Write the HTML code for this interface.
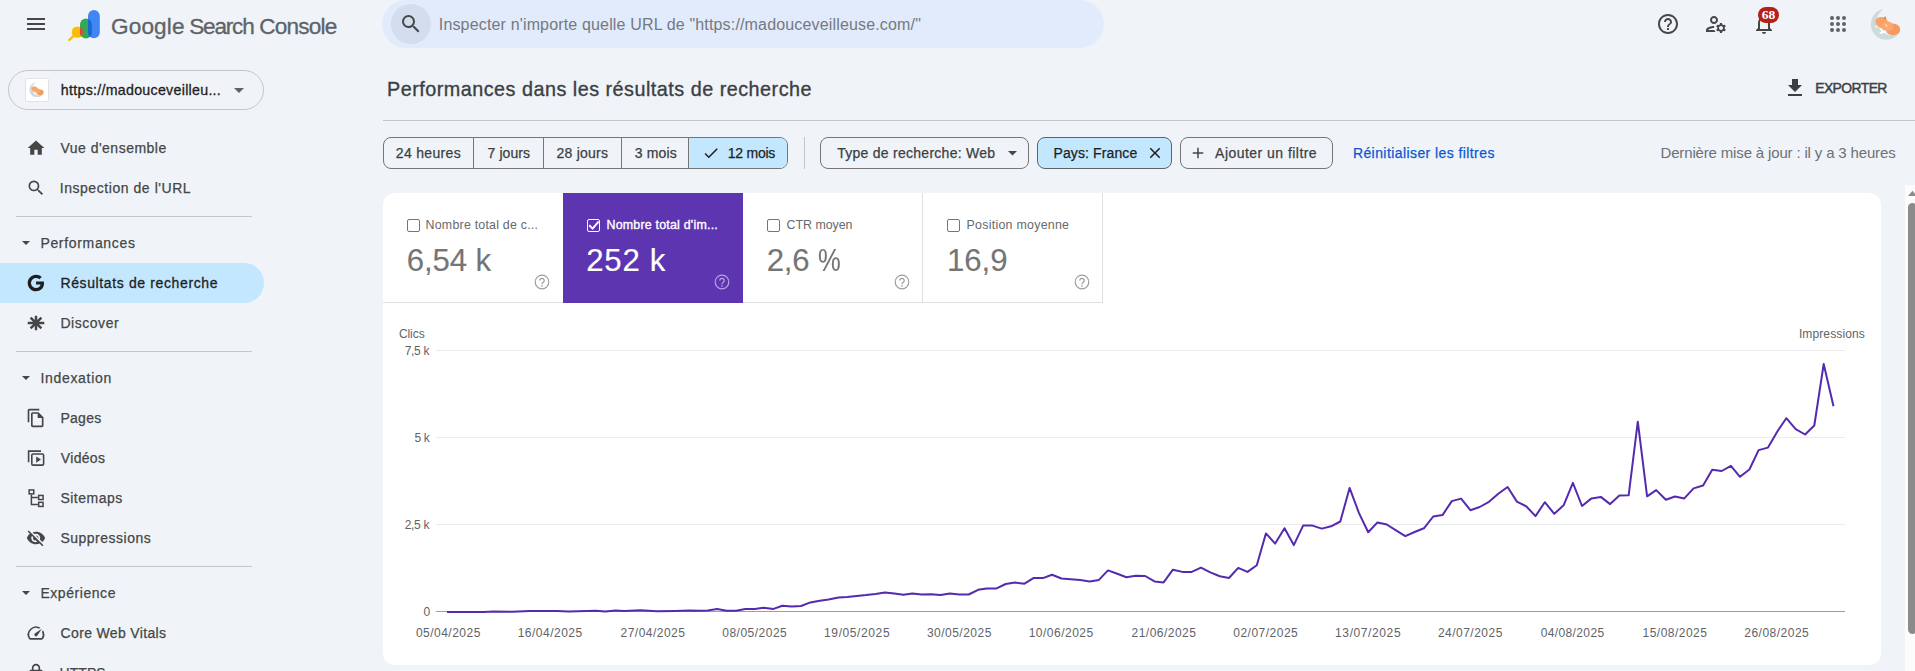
<!DOCTYPE html>
<html lang="fr">
<head>
<meta charset="utf-8">
<title>Performances</title>
<style>
*{box-sizing:border-box;margin:0;padding:0}
html,body{width:1915px;height:671px;overflow:hidden;background:#f0f4f9}
body{position:relative;font-family:"Liberation Sans",Arial,sans-serif;color:#444746;-webkit-font-smoothing:antialiased}
.a{position:absolute;white-space:nowrap}
.nav{font-size:14.5px;color:#444746;font-weight:400;line-height:20px;letter-spacing:.1px}
.sec{font-size:14.5px;color:#444746;line-height:20px}
.hr{position:absolute;height:1px;background:#c4c7c5}
.seg{font-size:14px;color:#3c4043;line-height:20px}
.xl{font-size:12px;color:#5f6368;text-align:center;line-height:16px}
.yl{font-size:12px;color:#5f6368;text-align:right;line-height:16px;width:40px;left:390px}
.mlab{font-size:13px;color:#5f6368;line-height:16px}
.mval{font-size:32px;color:#5f6368;line-height:36px}
svg{position:absolute;overflow:visible}
</style>
</head>
<body>

<!-- ===== header ===== -->
<svg style="left:24px;top:12px" width="24" height="24" viewBox="0 0 24 24"><path fill="#444746" d="M3 18h18v-2H3v2zm0-5h18v-2H3v2zm0-7v2h18V6H3z"/></svg>

<!-- logo -->
<svg style="left:68px;top:10px" width="32" height="32" viewBox="0 0 32 32">
  <defs>
    <clipPath id="cg"><rect x="12" y="8.600" width="11.800" height="20" rx="5.900"/></clipPath>
  </defs>
  <path d="M1.300 30 L5.600 25.800" stroke="#fbbc04" stroke-width="2.400" stroke-linecap="round" fill="none"/>
  <circle cx="9.300" cy="22.200" r="5.600" fill="#fbbc04"/>
  <rect x="12" y="8.600" width="11.800" height="20" rx="5.900" fill="#34a853"/>
  <circle cx="9.300" cy="22.200" r="5.600" fill="#ea4335" clip-path="url(#cg)"/>
  <rect x="20" y="0.100" width="11.800" height="28.100" rx="5.900" fill="#4285f4"/>
  <rect x="20" y="0.100" width="11.800" height="28.100" rx="5.900" fill="#1967d2" clip-path="url(#cg)"/>
</svg>

<!-- search bar -->
<div class="a" style="left:382px;top:0;width:722px;height:48px;border-radius:24px;background:#e1ebfc"></div>
<div class="a" style="left:391px;top:4px;width:40px;height:40px;border-radius:20px;background:#d3ddee"></div>
<svg style="left:399px;top:12px" width="24" height="24" viewBox="0 0 24 24"><path fill="#444746" d="M15.5 14h-.79l-.28-.27A6.471 6.471 0 0 0 16 9.500 6.500 6.500 0 1 0 9.500 16c1.610 0 3.090-.590 4.230-1.570l.27.28v.79l5 4.990L20.490 19l-4.990-5zm-6 0C7.010 14 5 11.990 5 9.500S7.010 5 9.500 5 14 7.010 14 9.500 11.990 14 9.500 14z"/></svg>

<!-- right icons -->
<svg style="left:1656px;top:12px" width="24" height="24" viewBox="0 0 24 24"><path fill="#444746" d="M11 18h2v-2h-2v2zm1-16C6.480 2 2 6.480 2 12s4.480 10 10 10 10-4.480 10-10S17.520 2 12 2zm0 18c-4.410 0-8-3.590-8-8s3.590-8 8-8 8 3.590 8 8-3.590 8-8 8zm0-14c-2.210 0-4 1.790-4 4h2c0-1.100.9-2 2-2s2 .9 2 2c0 2-3 1.750-3 5h2c0-2.250 3-2.500 3-5 0-2.210-1.790-4-4-4z"/></svg>
<svg style="left:1704px;top:12px" width="24" height="24" viewBox="0 0 24 24"><g fill="#444746"><path d="M10 12c2.210 0 4-1.790 4-4s-1.790-4-4-4-4 1.790-4 4 1.790 4 4 4zm0-6c1.100 0 2 .9 2 2s-.9 2-2 2-2-.9-2-2 .9-2 2-2z"/><path d="M4 18c.22-.72 3.310-2 6-2 0-.7.130-1.370.35-1.990C7.620 13.910 2 15.270 2 18v2h9.540c-.52-.58-.93-1.250-1.190-2H4z"/><path d="M19.430 18.020c.36-.59.570-1.280.57-2.020 0-2.210-1.790-4-4-4s-4 1.790-4 4 1.790 4 4 4c.74 0 1.430-.22 2.020-.57z" fill="none"/><path d="M20.750 16c0-.22-.03-.42-.06-.63l1.140-1.010-1-1.730-1.450.49c-.32-.27-.68-.48-1.080-.63L18 11h-2l-.3 1.490c-.4.150-.76.360-1.080.63l-1.450-.49-1 1.730 1.140 1.010c-.03.210-.06.410-.06.630s.03.420.06.630l-1.140 1.010 1 1.730 1.450-.49c.32.270.68.480 1.080.63L16 21h2l.3-1.490c.4-.150.760-.360 1.080-.63l1.450.49 1-1.730-1.140-1.010c.03-.210.06-.410.060-.630zM17 18c-1.100 0-2-.9-2-2s.9-2 2-2 2 .9 2 2-.9 2-2 2z"/></g></svg>
<svg style="left:1752px;top:12px" width="24" height="24" viewBox="0 0 24 24"><path fill="#444746" d="M12 22c1.100 0 2-.9 2-2h-4c0 1.100.9 2 2 2zm6-6v-5c0-3.070-1.630-5.640-4.500-6.320V4c0-.83-.67-1.500-1.500-1.500s-1.500.67-1.500 1.500v.68C7.640 5.360 6 7.920 6 11v5l-2 2v1h16v-1l-2-2zm-2 1H8v-6c0-2.480 1.510-4.500 4-4.500s4 2.020 4 4.500v6z"/></svg>
<div class="a" style="left:1758px;top:7px;width:21px;height:16px;border-radius:8px;background:#b3201a"></div>
<div class="a" style="left:1758px;top:7px;width:21px;height:16px;font-family:'Liberation Serif',serif;font-size:13.500px;font-weight:700;line-height:16px;color:#fff;text-align:center">68</div>
<svg style="left:1826px;top:12px" width="24" height="24" viewBox="0 0 24 24"><g fill="#5f6368"><circle cx="6" cy="6" r="2"/><circle cx="12" cy="6" r="2"/><circle cx="18" cy="6" r="2"/><circle cx="6" cy="12" r="2"/><circle cx="12" cy="12" r="2"/><circle cx="18" cy="12" r="2"/><circle cx="6" cy="18" r="2"/><circle cx="12" cy="18" r="2"/><circle cx="18" cy="18" r="2"/></g></svg>
<!-- avatar -->
<svg style="left:1870px;top:8px" width="32" height="32" viewBox="0 0 32 32">
  <defs><mask id="mk"><rect width="32" height="32" fill="#fff"/><circle cx="20.800" cy="13" r="13.900" fill="#000"/></mask></defs>
  <circle cx="16.300" cy="16.200" r="15.500" fill="#cddcda" mask="url(#mk)"/>
  <ellipse cx="23" cy="21.400" rx="7.200" ry="5.800" fill="#f59a5c"/>
  <ellipse cx="11.800" cy="14.600" rx="6.600" ry="5.400" transform="rotate(25 11.800 14.600)" fill="#f7a468"/>
  <path d="M12.500 10.500 l3.200 -2.600 l0.800 4.200z" fill="#f08a48"/>
  <ellipse cx="17.500" cy="18.500" rx="6" ry="5" fill="#f8a870"/>
  <path d="M9.500 24.500 q3 -2.500 7 -2 q-2 2.500 -6 3.500z" fill="#fff"/>
  <path d="M15.200 15.800 q2 1.200 2.200 3.600 q-1.600 -1.200 -2.200 -3.600z" fill="#fff"/>
  <path d="M4.800 18.800 l2.600 -1.600 l-0.400 2.600z" fill="#fff"/>
</svg>

<!-- ===== sidebar ===== -->
<div class="a" style="left:8px;top:70px;width:256px;height:40px;border:1px solid #c4c7c5;border-radius:20px"></div>
<div class="a" style="left:25px;top:78px;width:24px;height:24px;background:#fff;border:1px solid #e3e3e3;border-radius:2px"></div>
<svg style="left:28.800px;top:81.500px" width="15.500" height="15.500" viewBox="0 0 32 32">
  <defs><mask id="mk2"><rect width="32" height="32" fill="#fff"/><circle cx="20.800" cy="13" r="13.900" fill="#000"/></mask></defs>
  <circle cx="16.300" cy="16.200" r="15.500" fill="#cddcda" mask="url(#mk2)"/>
  <ellipse cx="23" cy="21.400" rx="7.200" ry="5.800" fill="#f59a5c"/>
  <ellipse cx="11.800" cy="14.600" rx="6.600" ry="5.400" transform="rotate(25 11.800 14.600)" fill="#f7a468"/>
  <ellipse cx="17.500" cy="18.500" rx="6" ry="5" fill="#f8a870"/>
  <path d="M9.500 24.500 q3 -2.500 7 -2 q-2 2.500 -6 3.500z" fill="#fff"/>
</svg>
<svg style="left:234px;top:88px" width="10" height="5" viewBox="0 0 10 5"><path d="M0 0h10L5 5z" fill="#5f6368"/></svg>

<svg style="left:26px;top:138px" width="20" height="20" viewBox="0 0 24 24"><path fill="#444746" d="M10 20v-6h4v6h5v-8h3L12 3 2 12h3v8z"/></svg>
<svg style="left:26px;top:178px" width="20" height="20" viewBox="0 0 24 24"><path fill="#444746" d="M15.500 14h-.79l-.28-.27A6.471 6.471 0 0 0 16 9.500 6.500 6.500 0 1 0 9.500 16c1.610 0 3.090-.590 4.230-1.570l.27.280v.79l5 4.990L20.490 19l-4.990-5zm-6 0C7.010 14 5 11.990 5 9.500S7.010 5 9.500 5 14 7.010 14 9.500 11.990 14 9.500 14z"/></svg>
<div class="hr" style="left:16px;top:216px;width:236px"></div>

<svg style="left:22px;top:241px" width="8" height="4" viewBox="0 0 10 5"><path d="M0 0h10L5 5z" fill="#444746"/></svg>

<div class="a" style="left:0;top:263px;width:264px;height:40px;border-radius:0 20px 20px 0;background:#c2e7ff"></div>
<svg style="left:27px;top:274px" width="18" height="18" viewBox="0 0 18 18"><path fill="#1f1f1f" d="M9 7.400v3.200h4.600c-.2 1.100-.85 2-1.750 2.600-.8.500-1.750.8-2.850.8-2.450 0-4.500-1.850-4.950-4.250a5.300 5.300 0 0 1 0-1.500C4.500 5.850 6.550 4 9 4c1.300 0 2.450.45 3.350 1.300l2.400-2.400C13.250 1.500 11.300.7 9 .7 4.400.7.700 4.400.700 9s3.700 8.300 8.300 8.300c2.250 0 4.150-.75 5.500-2 1.600-1.450 2.500-3.600 2.500-6.100 0-.6-.05-1.200-.15-1.800H9z"/></svg>

<svg style="left:27px;top:314px" width="18" height="18" viewBox="0 0 18 18"><g stroke="#444746" stroke-width="2.500" stroke-linecap="butt"><path d="M9 1.700v14.600M.7 9h16.600M3.600 3.600l10.800 10.800M14.400 3.600L3.600 14.400"/></g></svg>
<div class="hr" style="left:16px;top:351px;width:236px"></div>

<svg style="left:22px;top:376px" width="8" height="4" viewBox="0 0 10 5"><path d="M0 0h10L5 5z" fill="#444746"/></svg>

<svg style="left:26px;top:408px" width="20" height="20" viewBox="0 0 24 24"><path fill="#444746" d="M16 1H4c-1.100 0-2 .9-2 2v14h2V3h12V1zm-1 4H8c-1.100 0-1.990.9-1.990 2L6 21c0 1.100.89 2 1.990 2H19c1.100 0 2-.9 2-2V11l-6-6zM8 21V7h6v5h5v9H8z"/></svg>
<svg style="left:26px;top:448px" width="20" height="20" viewBox="0 0 20 20"><g fill="none" stroke="#444746" stroke-width="1.600"><path d="M2.600 14.300V3.100H15"/><rect x="5.800" y="6" width="11.800" height="11.100" rx="1.200"/></g><path d="M10.200 8.400L15 11.600L10.200 14.800z" fill="#444746"/></svg>
<svg style="left:26px;top:488px" width="20" height="20" viewBox="0 0 20 20"><g fill="none" stroke="#444746" stroke-width="1.500"><rect x="3.150" y="1.950" width="4.600" height="3.900"/><path d="M5.400 6.500V16.400H11.900M5.400 9.500H11.900"/><rect x="12.650" y="7.450" width="4.400" height="4.100"/><rect x="12.650" y="14.350" width="4.400" height="4.100"/></g></svg>
<svg style="left:26px;top:528px" width="20" height="20" viewBox="0 0 24 24"><path fill="#444746" d="M12 7c2.760 0 5 2.240 5 5 0 .65-.13 1.260-.36 1.830l2.920 2.920c1.510-1.260 2.700-2.890 3.430-4.750-1.730-4.390-6-7.500-11-7.500-1.400 0-2.740.25-3.980.7l2.160 2.160C10.740 7.130 11.350 7 12 7zM2 4.270l2.280 2.280.46.460C3.080 8.300 1.780 10.020 1 12c1.730 4.390 6 7.500 11 7.500 1.550 0 3.030-.3 4.380-.84l.42.42L19.730 22 21 20.730 3.270 3 2 4.270zM7.530 9.800l1.550 1.550c-.5.210-.8.430-.8.650 0 1.660 1.340 3 3 3 .22 0 .44-.3.650-.08l1.550 1.550c-.67.330-1.410.53-2.200.53-2.760 0-5-2.240-5-5 0-.79.2-1.530.53-2.200zm4.310-.78l3.150 3.150.02-.16c0-1.660-1.340-3-3-3l-.17.010z"/></svg>
<div class="hr" style="left:16px;top:566px;width:236px"></div>

<svg style="left:22px;top:591px" width="8" height="4" viewBox="0 0 10 5"><path d="M0 0h10L5 5z" fill="#444746"/></svg>
<svg style="left:26px;top:623px" width="20" height="20" viewBox="0 0 24 24"><path fill="#444746" d="M20.380 8.570l-1.230 1.850a8 8 0 0 1-.22 7.580H5.070A8 8 0 0 1 15.580 6.850l1.850-1.230A10 10 0 0 0 3.350 19a2 2 0 0 0 1.720 1h13.850a2 2 0 0 0 1.740-1 10 10 0 0 0-.27-10.440zm-9.790 6.840a2 2 0 0 0 2.830 0l5.660-8.490-8.490 5.660a2 2 0 0 0 0 2.830z"/></svg>
<svg style="left:26px;top:663px" width="20" height="20" viewBox="0 0 24 24"><path fill="#444746" d="M18 8h-1V6c0-2.760-2.240-5-5-5S7 3.240 7 6v2H6c-1.100 0-2 .9-2 2v10c0 1.100.9 2 2 2h12c1.100 0 2-.9 2-2V10c0-1.100-.9-2-2-2zM9 6c0-1.660 1.340-3 3-3s3 1.340 3 3v2H9V6zm9 14H6V10h12v10z"/></svg>

<!-- ===== main header ===== -->
<svg style="left:1783px;top:76px" width="24" height="24" viewBox="0 0 24 24"><path fill="#3c4043" d="M19 9h-4V3H9v6H5l7 7 7-7zM5 18v2h14v-2H5z"/></svg>
<div class="hr" style="left:383px;top:120px;width:1532px"></div>

<!-- filter bar -->
<div class="a" style="left:383px;top:137px;width:405px;height:32px;border:1px solid #747775;border-radius:8px;overflow:hidden">
  <div class="a" style="left:305px;top:0;width:100px;height:30px;background:#c2e7ff"></div>
  <div class="a" style="left:89px;top:0;width:1px;height:30px;background:#747775"></div>
  <div class="a" style="left:159px;top:0;width:1px;height:30px;background:#747775"></div>
  <div class="a" style="left:237px;top:0;width:1px;height:30px;background:#747775"></div>
  <div class="a" style="left:304px;top:0;width:1px;height:30px;background:#747775"></div>
</div>
<svg style="left:702px;top:144px" width="18" height="18" viewBox="0 0 24 24"><path fill="#1f1f1f" d="M9 16.170L4.830 12l-1.420 1.410L9 19 21 7l-1.410-1.410z"/></svg>

<div class="a" style="left:804px;top:137px;width:1px;height:32px;background:#c4c7c5"></div>

<div class="a" style="left:820px;top:137px;width:209px;height:32px;border:1px solid #747775;border-radius:8px"></div>
<svg style="left:1008px;top:151px" width="9" height="4.500" viewBox="0 0 10 5"><path d="M0 0h10L5 5z" fill="#444746"/></svg>

<div class="a" style="left:1037px;top:137px;width:135px;height:32px;border:1px solid #5f6368;border-radius:8px;background:#c2e7ff"></div>
<svg style="left:1146px;top:144px" width="18" height="18" viewBox="0 0 24 24"><path fill="#1f1f1f" d="M19 6.410L17.590 5 12 10.590 6.410 5 5 6.410 10.590 12 5 17.590 6.410 19 12 13.410 17.590 19 19 17.590 13.410 12z"/></svg>

<div class="a" style="left:1180px;top:137px;width:153px;height:32px;border:1px solid #747775;border-radius:8px"></div>
<svg style="left:1188.500px;top:144px" width="18" height="18" viewBox="0 0 24 24"><path fill="#444746" d="M19 13h-6v6h-2v-6H5v-2h6V5h2v6h6v2z"/></svg>


<!-- ===== card ===== -->
<div class="a" style="left:382.500px;top:192.700px;width:1498.500px;height:472.500px;background:#fff;border-radius:12px"></div>
<div class="a" style="left:383px;top:302px;width:720px;height:1px;background:#e0e0e0"></div>
<div class="a" style="left:922px;top:193px;width:1px;height:109px;background:#e0e0e0"></div>
<div class="a" style="left:1102px;top:193px;width:1px;height:110px;background:#e0e0e0"></div>
<div class="a" style="left:563px;top:193px;width:180px;height:110px;background:#5e35b1"></div>

<!-- tile 1 -->
<div class="a" style="left:407px;top:219px;width:13px;height:13px;border:1.300px solid #757575;border-radius:2px;background:#fff"></div>
<!-- tile 2 -->
<div class="a" style="left:587px;top:219px;width:13px;height:13px;border:1.300px solid #fff;border-radius:2px"></div>
<svg style="left:587px;top:219px" width="13" height="13" viewBox="0 0 13 13"><path d="M2.200 6.300L5.600 9.600L11.600 2.600" fill="none" stroke="#fff" stroke-width="2"/></svg>
<!-- tile 3 -->
<div class="a" style="left:767px;top:219px;width:13px;height:13px;border:1.300px solid #757575;border-radius:2px;background:#fff"></div>
<!-- tile 4 -->
<div class="a" style="left:947px;top:219px;width:13px;height:13px;border:1.300px solid #757575;border-radius:2px;background:#fff"></div>

<!-- help icons -->
<svg style="left:534px;top:274px" width="16" height="16" viewBox="0 0 16 16"><g fill="none" stroke="#9e9e9e" stroke-width="1.200"><circle cx="8" cy="8" r="6.800"/><path d="M5.800 6.500a2.200 2.200 0 1 1 3.500 1.800c-.9.600-1.300 1-1.300 1.900" stroke-width="1.300"/></g><circle cx="8" cy="11.900" r=".800" fill="#9e9e9e"/></svg>
<svg style="left:714px;top:274px" width="16" height="16" viewBox="0 0 16 16"><g fill="none" stroke="#b7a3de" stroke-width="1.200"><circle cx="8" cy="8" r="6.800"/><path d="M5.800 6.500a2.200 2.200 0 1 1 3.500 1.800c-.9.600-1.300 1-1.300 1.900" stroke-width="1.300"/></g><circle cx="8" cy="11.900" r=".800" fill="#b7a3de"/></svg>
<svg style="left:894px;top:274px" width="16" height="16" viewBox="0 0 16 16"><g fill="none" stroke="#9e9e9e" stroke-width="1.200"><circle cx="8" cy="8" r="6.800"/><path d="M5.800 6.500a2.200 2.200 0 1 1 3.500 1.800c-.9.600-1.300 1-1.300 1.900" stroke-width="1.300"/></g><circle cx="8" cy="11.900" r=".800" fill="#9e9e9e"/></svg>
<svg style="left:1074px;top:274px" width="16" height="16" viewBox="0 0 16 16"><g fill="none" stroke="#9e9e9e" stroke-width="1.200"><circle cx="8" cy="8" r="6.800"/><path d="M5.800 6.500a2.200 2.200 0 1 1 3.500 1.800c-.9.600-1.300 1-1.300 1.900" stroke-width="1.300"/></g><circle cx="8" cy="11.900" r=".800" fill="#9e9e9e"/></svg>

<!-- ===== chart ===== -->
<div class="a" style="left:436px;top:350px;width:1409px;height:1px;background:#ebebeb"></div>
<div class="a" style="left:436px;top:437px;width:1409px;height:1px;background:#ebebeb"></div>
<div class="a" style="left:436px;top:524px;width:1409px;height:1px;background:#ebebeb"></div>
<div class="a" style="left:436px;top:611px;width:1409px;height:1px;background:#9e9e9e"></div>
<svg style="left:0;top:0" width="1915" height="671" viewBox="0 0 1915 671"><polyline fill="none" stroke="#552aae" stroke-width="2" stroke-linejoin="round" stroke-linecap="butt" points="447.0,612.0 470.0,612.0 484.0,611.9 493.5,611.6 512.0,611.8 530.0,611.1 557.0,611.1 568.7,611.6 596.0,610.8 605.4,611.6 615.5,610.6 624.0,610.9 640.5,610.3 657.0,611.2 675.0,610.9 689.0,610.6 700.0,610.8 707.8,610.5 717.2,609.1 726.6,610.8 736.0,610.8 745.4,608.9 754.8,608.9 763.5,607.8 773.6,608.9 782.3,605.8 791.6,606.6 801.0,606.0 810.4,602.4 819.8,600.8 828.5,599.5 838.6,597.5 847.3,596.9 856.7,595.9 866.0,595.1 875.5,594.0 884.9,592.6 894.3,593.4 903.4,594.8 912.3,593.4 921.7,594.5 931.1,594.2 940.5,595.0 949.9,593.6 959.3,594.5 968.7,594.5 978.1,589.8 986.7,588.4 996.1,588.6 1005.7,584.0 1015.0,582.6 1024.5,583.7 1033.4,578.1 1042.9,578.1 1052.0,574.7 1061.5,578.5 1070.8,579.2 1080.3,580.1 1089.6,581.4 1098.9,579.9 1108.0,570.4 1117.3,573.8 1126.4,577.2 1135.7,575.8 1145.2,576.0 1154.5,581.4 1163.6,582.4 1172.9,569.7 1182.4,571.9 1191.7,571.9 1201.0,567.6 1210.3,572.4 1219.8,576.2 1229.0,578.0 1238.2,567.9 1247.5,571.9 1256.8,565.3 1265.9,533.4 1275.2,543.6 1284.5,528.2 1293.8,545.1 1303.1,525.6 1312.4,525.6 1321.8,528.6 1331.1,526.3 1340.3,521.5 1349.6,487.9 1358.9,512.9 1368.2,532.2 1377.5,522.4 1386.8,524.5 1396.0,530.4 1405.3,536.2 1414.6,532.0 1423.9,528.3 1433.2,516.5 1442.5,515.1 1451.8,501.1 1461.1,498.6 1470.4,510.2 1479.7,507.0 1489.0,501.8 1498.3,493.8 1507.6,487.0 1516.9,501.6 1526.2,506.3 1535.5,516.1 1544.8,502.2 1554.3,513.8 1563.6,505.3 1572.9,482.9 1582.0,506.0 1591.5,498.4 1600.8,496.9 1610.1,504.1 1619.4,495.5 1628.7,495.2 1637.8,421.7 1647.1,496.3 1656.2,490.1 1665.9,499.8 1675.0,496.5 1684.3,498.4 1693.6,488.4 1703.1,485.5 1712.2,469.7 1721.7,471.0 1730.9,465.9 1740.0,476.8 1749.4,469.5 1758.6,450.1 1768.0,447.6 1777.2,431.8 1786.3,418.2 1795.7,429.2 1805.1,434.5 1814.3,425.5 1823.7,364.0 1833.5,406.3"/></svg>
<div id="b1" class="a" style="left:111.00px;top:11.10px;font-size:22.6px;line-height:32px;color:#5f6368;letter-spacing:0.120px;-webkit-text-stroke:.3px">Google</div>
<div id="b2" class="a" style="left:189.20px;top:11.10px;font-size:22.6px;line-height:32px;color:#5f6368;letter-spacing:-1.200px;-webkit-text-stroke:.3px">Search</div>
<div id="b3" class="a" style="left:259.20px;top:11.10px;font-size:22.6px;line-height:32px;color:#5f6368;letter-spacing:-0.800px;-webkit-text-stroke:.3px">Console</div>
<div id="sph" class="a" style="left:438.80px;top:14.00px;font-size:16px;line-height:22px;color:#757980;letter-spacing:0.159px;">Inspecter n'importe quelle URL de "https://madouceveilleuse.com/"</div>
<div id="prop" class="a" style="left:60.80px;top:80.10px;font-size:14.2px;line-height:20px;color:#1f1f1f;letter-spacing:0.292px;-webkit-text-stroke:.3px #1f1f1f">https://madouceveilleu...</div>
<div id="n1" class="a" style="left:60.40px;top:137.90px;font-size:14px;line-height:20px;color:#444746;letter-spacing:0.492px;-webkit-text-stroke:.25px">Vue d'ensemble</div>
<div id="n2" class="a" style="left:59.70px;top:178.20px;font-size:14px;line-height:20px;color:#444746;letter-spacing:0.556px;-webkit-text-stroke:.25px">Inspection de l'URL</div>
<div id="s1" class="a" style="left:40.40px;top:233.20px;font-size:14px;line-height:20px;color:#444746;letter-spacing:0.673px;-webkit-text-stroke:.25px">Performances</div>
<div id="n3" class="a" style="left:60.40px;top:272.90px;font-size:14px;line-height:20px;color:#1f1f1f;letter-spacing:0.629px;-webkit-text-stroke:.3px">Résultats de recherche</div>
<div id="n4" class="a" style="left:60.40px;top:313.20px;font-size:14px;line-height:20px;color:#444746;letter-spacing:0.543px;-webkit-text-stroke:.25px">Discover</div>
<div id="s2" class="a" style="left:40.40px;top:368.20px;font-size:14px;line-height:20px;color:#444746;letter-spacing:0.689px;-webkit-text-stroke:.25px">Indexation</div>
<div id="n5" class="a" style="left:60.40px;top:407.90px;font-size:14px;line-height:20px;color:#444746;letter-spacing:0.300px;-webkit-text-stroke:.25px">Pages</div>
<div id="n6" class="a" style="left:60.80px;top:448.20px;font-size:14px;line-height:20px;color:#444746;letter-spacing:0.320px;-webkit-text-stroke:.25px">Vidéos</div>
<div id="n7" class="a" style="left:60.40px;top:487.90px;font-size:14px;line-height:20px;color:#444746;letter-spacing:0.514px;-webkit-text-stroke:.25px">Sitemaps</div>
<div id="n8" class="a" style="left:60.40px;top:527.90px;font-size:14px;line-height:20px;color:#444746;letter-spacing:0.509px;-webkit-text-stroke:.25px">Suppressions</div>
<div id="s3" class="a" style="left:40.40px;top:583.00px;font-size:14px;line-height:20px;color:#444746;letter-spacing:0.556px;-webkit-text-stroke:.25px">Expérience</div>
<div id="n9" class="a" style="left:60.60px;top:622.80px;font-size:14px;line-height:20px;color:#444746;letter-spacing:0.343px;-webkit-text-stroke:.25px">Core Web Vitals</div>
<div id="n10" class="a" style="left:59.60px;top:662.80px;font-size:14px;line-height:20px;color:#444746;letter-spacing:0.050px;-webkit-text-stroke:.25px">HTTPS</div>
<div id="title" class="a" style="left:387.00px;top:75.00px;font-size:19.8px;line-height:28px;color:#3c4043;letter-spacing:0.488px;-webkit-text-stroke:.35px">Performances dans les résultats de recherche</div>
<div id="exp" class="a" style="left:1815.20px;top:78.90px;font-size:13.9px;line-height:19px;color:#3c4043;letter-spacing:-0.571px;-webkit-text-stroke:.45px">EXPORTER</div>
<div id="f1" class="a" style="left:395.80px;top:143.20px;font-size:14px;line-height:20px;color:#3c4043;letter-spacing:0.325px;-webkit-text-stroke:.25px">24 heures</div>
<div id="f2" class="a" style="left:487.60px;top:143.20px;font-size:14px;line-height:20px;color:#3c4043;letter-spacing:0.067px;-webkit-text-stroke:.25px">7 jours</div>
<div id="f3" class="a" style="left:556.50px;top:143.20px;font-size:14px;line-height:20px;color:#3c4043;letter-spacing:0.229px;-webkit-text-stroke:.25px">28 jours</div>
<div id="f4" class="a" style="left:634.70px;top:143.20px;font-size:14px;line-height:20px;color:#3c4043;letter-spacing:0.160px;-webkit-text-stroke:.25px">3 mois</div>
<div id="f5" class="a" style="left:727.70px;top:143.20px;font-size:14px;line-height:20px;color:#1f1f1f;letter-spacing:-0.233px;-webkit-text-stroke:.25px">12 mois</div>
<div id="f6" class="a" style="left:837.20px;top:143.20px;font-size:14px;line-height:20px;color:#3c4043;letter-spacing:0.267px;-webkit-text-stroke:.25px">Type de recherche: Web</div>
<div id="f7" class="a" style="left:1053.50px;top:143.20px;font-size:14px;line-height:20px;color:#1f1f1f;letter-spacing:0.109px;-webkit-text-stroke:.25px">Pays: France</div>
<div id="f8" class="a" style="left:1215.10px;top:143.20px;font-size:14px;line-height:20px;color:#3c4043;letter-spacing:0.463px;-webkit-text-stroke:.25px">Ajouter un filtre</div>
<div id="f9" class="a" style="left:1352.90px;top:143.20px;font-size:14px;line-height:20px;color:#0b57d0;letter-spacing:0.417px;-webkit-text-stroke:.25px">Réinitialiser les filtres</div>
<div id="f10" class="a" style="left:1660.50px;top:142.10px;font-size:15px;line-height:21px;color:#6b7177;letter-spacing:-0.157px;">Dernière mise à jour : il y a 3 heures</div>
<div id="m1" class="a" style="left:425.60px;top:216.70px;font-size:12.4px;line-height:17px;color:#666a6e;letter-spacing:0.221px;">Nombre total de c...</div>
<div id="m2" class="a" style="left:606.50px;top:216.70px;font-size:12.4px;line-height:17px;color:#ffffff;letter-spacing:0.221px;-webkit-text-stroke:.35px">Nombre total d'im...</div>
<div id="m3" class="a" style="left:786.60px;top:216.70px;font-size:12.4px;line-height:17px;color:#666a6e;letter-spacing:-0.025px;">CTR moyen</div>
<div id="m4" class="a" style="left:966.50px;top:216.70px;font-size:12.4px;line-height:17px;color:#666a6e;letter-spacing:0.267px;">Position moyenne</div>
<div id="v1" class="a" style="left:406.80px;top:238.60px;font-size:31.2px;line-height:44px;color:#757575;letter-spacing:-0.120px;-webkit-text-stroke:.12px">6,54 k</div>
<div id="v2" class="a" style="left:586.30px;top:238.60px;font-size:31.2px;line-height:44px;color:#ffffff;letter-spacing:0.700px;-webkit-text-stroke:.15px">252 k</div>
<div id="v3" class="a" style="left:766.70px;top:238.60px;font-size:31.2px;line-height:44px;color:#757575;letter-spacing:-0.200px;-webkit-text-stroke:.12px">2,6</div>
<div id="v3b" class="a" style="left:817.70px;top:238.60px;font-size:31.2px;line-height:44px;color:#757575;letter-spacing:0.000px;-webkit-text-stroke:.12px;transform:scaleX(.82);transform-origin:0 0">%</div>
<div id="v4" class="a" style="left:947.00px;top:238.60px;font-size:31.2px;line-height:44px;color:#757575;letter-spacing:-0.067px;-webkit-text-stroke:.12px">16,9</div>
<div id="c1" class="a" style="left:398.90px;top:326.00px;font-size:12px;line-height:17px;color:#5f6368;letter-spacing:-0.050px;">Clics</div>
<div id="c2" class="a" style="left:1798.90px;top:326.00px;font-size:12px;line-height:17px;color:#5f6368;letter-spacing:0.120px;">Impressions</div>
<div id="y1" class="a" style="left:404.70px;top:343.10px;font-size:12px;line-height:17px;color:#5f6368;letter-spacing:-0.300px;">7,5 k</div>
<div id="y2" class="a" style="left:414.40px;top:429.80px;font-size:12px;line-height:17px;color:#5f6368;letter-spacing:-0.300px;">5 k</div>
<div id="y3" class="a" style="left:404.70px;top:516.80px;font-size:12px;line-height:17px;color:#5f6368;letter-spacing:-0.300px;">2,5 k</div>
<div id="y4" class="a" style="left:423.50px;top:603.60px;font-size:12px;line-height:17px;color:#5f6368;letter-spacing:0.000px;">0</div>
<div id="x0" class="a" style="left:415.90px;top:624.80px;font-size:12px;line-height:17px;color:#5f6368;letter-spacing:0.489px;">05/04/2025</div>
<div id="x1" class="a" style="left:517.70px;top:624.80px;font-size:12px;line-height:17px;color:#5f6368;letter-spacing:0.489px;">16/04/2025</div>
<div id="x2" class="a" style="left:620.50px;top:624.80px;font-size:12px;line-height:17px;color:#5f6368;letter-spacing:0.489px;">27/04/2025</div>
<div id="x3" class="a" style="left:722.30px;top:624.80px;font-size:12px;line-height:17px;color:#5f6368;letter-spacing:0.489px;">08/05/2025</div>
<div id="x4" class="a" style="left:824.10px;top:624.80px;font-size:12px;line-height:17px;color:#5f6368;letter-spacing:0.600px;">19/05/2025</div>
<div id="x5" class="a" style="left:926.90px;top:624.80px;font-size:12px;line-height:17px;color:#5f6368;letter-spacing:0.489px;">30/05/2025</div>
<div id="x6" class="a" style="left:1028.70px;top:624.80px;font-size:12px;line-height:17px;color:#5f6368;letter-spacing:0.489px;">10/06/2025</div>
<div id="x7" class="a" style="left:1131.50px;top:624.80px;font-size:12px;line-height:17px;color:#5f6368;letter-spacing:0.489px;">21/06/2025</div>
<div id="x8" class="a" style="left:1233.30px;top:624.80px;font-size:12px;line-height:17px;color:#5f6368;letter-spacing:0.489px;">02/07/2025</div>
<div id="x9" class="a" style="left:1335.10px;top:624.80px;font-size:12px;line-height:17px;color:#5f6368;letter-spacing:0.600px;">13/07/2025</div>
<div id="x10" class="a" style="left:1437.90px;top:624.80px;font-size:12px;line-height:17px;color:#5f6368;letter-spacing:0.489px;">24/07/2025</div>
<div id="x11" class="a" style="left:1540.70px;top:624.80px;font-size:12px;line-height:17px;color:#5f6368;letter-spacing:0.378px;">04/08/2025</div>
<div id="x12" class="a" style="left:1642.50px;top:624.80px;font-size:12px;line-height:17px;color:#5f6368;letter-spacing:0.489px;">15/08/2025</div>
<div id="x13" class="a" style="left:1744.30px;top:624.80px;font-size:12px;line-height:17px;color:#5f6368;letter-spacing:0.489px;">26/08/2025</div>


<!-- scrollbar -->
<div class="a" style="left:1905px;top:184.800px;width:15px;height:487px;background:#fcfcfc"></div>
<svg style="left:1905px;top:185px" width="10" height="15" viewBox="0 0 10 15"><path d="M3 11L7.500 5.800L12 11z" fill="#8b8b8b"/></svg>
<div class="a" style="left:1908px;top:202.700px;width:9px;height:431.100px;border-radius:4.500px;background:#8b8b8b"></div>

</body>
</html>
